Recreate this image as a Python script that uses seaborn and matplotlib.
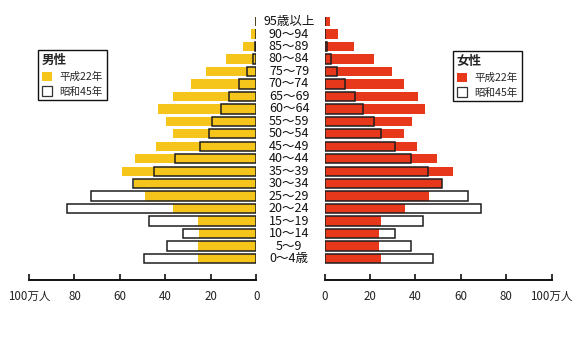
import matplotlib
matplotlib.use("Agg")
import matplotlib.pyplot as plt
import matplotlib.transforms as mtransforms
from matplotlib.patches import Patch
import pandas as pd
import seaborn as sns

# 年齢階級（上から下へ）
ages = ["95歳以上", "90～94", "85～89", "80～84", "75～79", "70～74", "65～69",
        "60～64", "55～59", "50～54", "45～49", "40～44", "35～39", "30～34",
        "25～29", "20～24", "15～19", "10～14", "5～9", "0～4歳"]

# 人口（万人）
male_h22 = [0.7, 2.2, 6.0, 13.6, 22.1, 29.0, 36.6, 43.1, 39.6, 36.6,
            44.0, 53.2, 58.9, 53.8, 49.1, 36.5, 25.5, 25.2, 25.5, 25.9]
male_s45 = [0.1, 0.3, 0.7, 1.6, 4.1, 7.8, 12.2, 15.7, 19.6, 21.0,
            24.9, 35.9, 45.1, 54.2, 72.7, 83.5, 47.3, 32.2, 39.4, 49.5]
female_h22 = [2.2, 6.0, 13.2, 21.7, 29.6, 35.2, 41.3, 44.3, 38.3, 34.9,
              40.9, 49.4, 56.7, 51.5, 46.1, 35.5, 24.8, 24.1, 24.1, 24.8]
female_s45 = [0.1, 0.3, 1.2, 2.8, 5.4, 9.0, 13.3, 17.1, 21.9, 24.9,
              31.1, 38.2, 45.4, 51.8, 63.2, 68.7, 43.4, 31.0, 38.0, 47.6]

tick_values = [0, 20, 40, 60, 80, 100]
tick_labels = ["0", "20", "40", "60", "80", "100万人"]

YELLOW = "#F5C51C"
RED = "#E8381C"
EDGE = "#1e1e1e"

sns.set_style("white")
plt.rcParams["font.family"] = ["Noto Sans CJK JP", "DejaVu Sans"]

df = pd.DataFrame({
    "age": ages,
    "male_h22": male_h22, "male_s45": male_s45,
    "female_h22": female_h22, "female_s45": female_s45,
})

fig = plt.figure(figsize=(5.80, 3.37), dpi=100)
ax_m = fig.add_axes([0.05, 0.1682, 0.3922, 0.8048])
ax_f = fig.add_axes([0.5595, 0.1682, 0.3917, 0.8048])

for ax, now_col, old_col, color in [
    (ax_m, "male_h22", "male_s45", YELLOW),
    (ax_f, "female_h22", "female_s45", RED),
]:
    sns.barplot(data=df, x=now_col, y="age", order=ages, color=color,
                saturation=1, width=0.75, linewidth=0, ax=ax)
    sns.barplot(data=df, x=old_col, y="age", order=ages, color=EDGE,
                fill=False, width=0.75, linewidth=1.1, ax=ax)
    ax.set_ylim(len(ages) - 1 + 1.75, -1)
    ax.set_yticks([])
    ax.set_xlabel("")
    ax.set_ylabel("")
    for side in ("top", "left", "right"):
        ax.spines[side].set_visible(False)
    ax.spines["bottom"].set_color("#111111")
    ax.spines["bottom"].set_linewidth(1.4)
    ax.set_xticks(tick_values)
    ax.set_xticklabels(tick_labels, fontsize=8.3, color="#222222")
    ax.tick_params(axis="x", direction="in", length=4, width=1.2,
                   color="#111111", pad=7, bottom=True)

ax_m.set_xlim(100, 0)
ax_f.set_xlim(0, 100)

# 中央の年齢ラベル
trans = mtransforms.blended_transform_factory(fig.transFigure, ax_f.transData)
for i, label in enumerate(ages):
    ax_f.text(0.4983, i, label, transform=trans, ha="center", va="center",
              fontsize=9, color="#111111", clip_on=False)

def add_legend(ax, title, color, anchor):
    handles = [Patch(facecolor=color, edgecolor=color, linewidth=0),
               Patch(facecolor="white", edgecolor="#333333", linewidth=0.9)]
    leg = ax.legend(handles, ["平成22年", "昭和45年"], title=title,
                    loc="upper left", bbox_to_anchor=anchor,
                    bbox_transform=fig.transFigure, borderaxespad=0,
                    fontsize=7.6, title_fontproperties={"size": 9, "weight": "bold"},
                    frameon=True, fancybox=False, edgecolor="#111111",
                    framealpha=1, handlelength=0.95, handleheight=0.95,
                    handletextpad=0.75, labelspacing=0.45, borderpad=0.35,
                    alignment="left")
    leg.get_frame().set_linewidth(1.0)
    return leg

add_legend(ax_m, "男性", YELLOW, (38 / 580, 1 - 50 / 337))
add_legend(ax_f, "女性", RED, (453 / 580, 1 - 51 / 337))

fig.savefig("out.png", dpi=100)
